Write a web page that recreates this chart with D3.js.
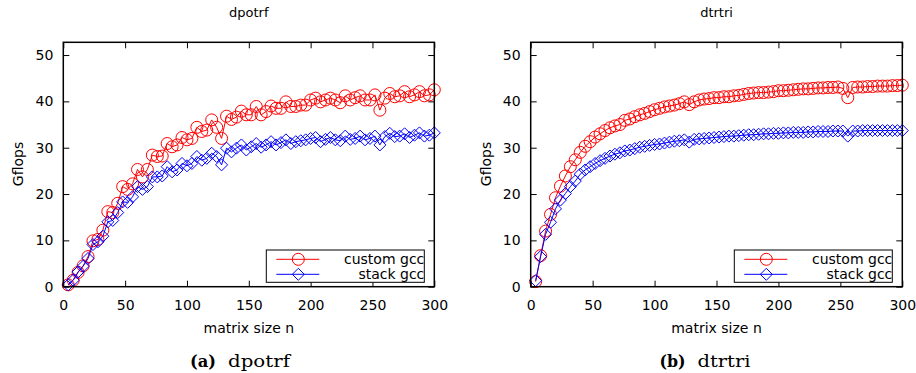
<!DOCTYPE html>
<html>
<head>
<meta charset="utf-8">
<script src="https://cdn.jsdelivr.net/npm/d3@7"></script>
<style>
  html, body { margin: 0; padding: 0; background: #fff; }
  svg { display: block; }
  text { font-family: "DejaVu Sans", "Liberation Sans", sans-serif; }
  text.caption { font-family: "DejaVu Serif", "Liberation Serif", serif; }
</style>
</head>
<body>
<svg id="chart" width="916" height="373"></svg>
<script>
// Matrix sizes n (every 4th size up to 300)
const sizes = [
    4,   8,  12,  16,  20,  24,  28,  32,  36,  40,  44,  48,  52,  56,  60,
   64,  68,  72,  76,  80,  84,  88,  92,  96, 100, 104, 108, 112, 116, 120,
  124, 128, 132, 136, 140, 144, 148, 152, 156, 160, 164, 168, 172, 176, 180,
  184, 188, 192, 196, 200, 204, 208, 212, 216, 220, 224, 228, 232, 236, 240,
  244, 248, 252, 256, 260, 264, 268, 272, 276, 280, 284, 288, 292, 296, 300
];

// dpotrf, Gflops
const dpotrfCustom = [
   0.4,  1.4,  3.1,  4.5,  6.5,  9.9, 10.2, 12.2, 16.2, 16.0, 18.0, 21.6, 21.0, 22.2, 25.3,
  23.7, 25.3, 28.4, 28.1, 28.2, 30.9, 30.2, 30.6, 32.2, 31.7, 32.0, 34.4, 33.5, 33.8, 36.0,
  34.4, 32.0, 36.8, 36.1, 36.6, 37.9, 37.1, 37.1, 38.9, 37.1, 37.8, 39.0, 38.5, 38.5, 39.9,
  38.9, 38.9, 39.2, 39.2, 40.3, 40.7, 39.9, 40.3, 40.7, 40.3, 39.7, 41.2, 40.3, 40.8, 41.2,
  40.3, 40.3, 41.4, 38.1, 40.7, 41.7, 41.0, 41.2, 42.1, 41.0, 41.4, 42.1, 41.2, 41.4, 42.5
];
const dpotrfStack = [
   0.4,  1.4,  3.2,  4.4,  6.1,  9.1,  9.7, 10.9, 14.0, 14.3, 16.0, 18.3, 18.2, 19.4, 21.6,
  21.0, 21.6, 23.7, 23.7, 23.9, 25.9, 24.8, 25.2, 26.6, 26.1, 26.6, 28.1, 27.3, 27.7, 28.8,
  28.1, 26.3, 29.9, 29.1, 29.9, 30.6, 29.5, 30.2, 30.9, 30.1, 30.6, 31.3, 30.6, 31.1, 31.7,
  30.9, 31.3, 31.5, 31.7, 32.0, 32.2, 31.3, 31.8, 32.2, 31.7, 31.5, 32.5, 31.8, 32.0, 32.5,
  31.7, 32.0, 32.5, 30.6, 32.4, 33.1, 32.4, 32.5, 33.0, 32.2, 32.7, 33.2, 32.5, 32.7, 33.2
];

// dtrtri, Gflops
const dtrtriCustom = [
   1.1,  6.7, 12.0, 15.6, 19.2, 21.7, 23.9, 25.9, 27.4, 29.0, 30.3, 31.3, 32.3, 33.0, 33.7,
  34.3, 34.7, 35.0, 35.9, 36.2, 36.7, 37.1, 37.4, 37.8, 38.2, 38.5, 38.8, 39.0, 39.2, 39.5,
  39.9, 39.3, 39.9, 40.3, 40.5, 40.6, 40.8, 40.8, 41.0, 41.0, 41.2, 41.3, 41.5, 41.7, 41.8,
  41.9, 41.9, 42.0, 42.1, 42.3, 42.3, 42.4, 42.5, 42.6, 42.7, 42.7, 42.8, 42.9, 42.9, 43.0,
  43.0, 43.1, 42.8, 40.8, 43.0, 43.1, 43.1, 43.2, 43.2, 43.3, 43.3, 43.3, 43.4, 43.4, 43.5
];
const dtrtriStack = [
   1.3,  6.5, 11.3, 13.9, 16.8, 18.7, 20.1, 21.6, 22.8, 24.3, 25.2, 25.9, 26.6, 27.2, 27.7,
  28.2, 28.6, 28.9, 29.3, 29.5, 29.8, 30.1, 30.3, 30.5, 30.7, 30.8, 31.0, 31.2, 31.4, 31.5,
  31.7, 31.2, 31.8, 31.9, 32.0, 32.1, 32.2, 32.3, 32.4, 32.5, 32.5, 32.6, 32.7, 32.8, 32.8,
  32.9, 33.0, 33.0, 33.1, 33.1, 33.2, 33.2, 33.3, 33.3, 33.3, 33.4, 33.4, 33.5, 33.5, 33.5,
  33.6, 33.6, 33.6, 32.5, 33.6, 33.6, 33.7, 33.7, 33.7, 33.7, 33.7, 33.7, 33.7, 33.7, 33.7
];

const xTicks = [0, 50, 100, 150, 200, 250, 300];
const yTicks = [0, 10, 20, 30, 40, 50];
const seriesNames = ["custom gcc", "stack gcc"];
const seriesColors = ["#ff0000", "#0000ff"];

const svg = d3.select("#chart");
const FONT = 14;
const TICK = 6;

function diamondPath(cx, cy, h) {
  return `M${cx},${cy - h}L${cx + h},${cy}L${cx},${cy + h}L${cx - h},${cy}Z`;
}

function drawPanel(opt) {
  const x = d3.scaleLinear().domain([0, 300]).range([opt.x0, opt.x1]);
  const y = d3.scaleLinear().domain([0, 52.75]).range([286.7, 42.3]);
  const g = svg.append("g");

  // Title
  g.append("text")
    .attr("x", (opt.x0 + opt.x1) / 2).attr("y", 17)
    .attr("text-anchor", "middle").attr("font-size", 13)
    .text(opt.title);

  // Axes with inward ticks on all four sides
  const ax = g.append("g").attr("transform", `translate(0,${y(0)})`)
    .call(d3.axisBottom(x).tickValues(xTicks).tickSizeInner(-TICK).tickSizeOuter(0).tickPadding(13));
  const ay = g.append("g").attr("transform", `translate(${x(0)},0)`)
    .call(d3.axisLeft(y).tickValues(yTicks).tickSizeInner(-TICK).tickSizeOuter(0).tickPadding(10));
  const at = g.append("g").attr("transform", `translate(0,${y.range()[1]})`)
    .call(d3.axisTop(x).tickValues(xTicks).tickSizeInner(-TICK).tickSizeOuter(0).tickFormat(""));
  const ar = g.append("g").attr("transform", `translate(${x(300)},0)`)
    .call(d3.axisRight(y).tickValues(yTicks).tickSizeInner(-TICK).tickSizeOuter(0).tickFormat(""));
  [ax, ay, at, ar].forEach(a => {
    a.select(".domain").remove();
    a.selectAll("line").attr("stroke", "#000").attr("stroke-width", 1);
    a.selectAll("text").attr("font-size", FONT).attr("fill", "#000");
  });

  // Series lines and markers
  opt.series.forEach((vals, si) => {
    const color = seriesColors[si];
    const pts = sizes.map((n, i) => [x(n), y(vals[i])]);
    g.append("path")
      .attr("d", d3.line()(pts))
      .attr("fill", "none").attr("stroke", color).attr("stroke-width", 1);
    if (si === 0) {
      g.selectAll(null).data(pts).enter().append("circle")
        .attr("cx", d => d[0]).attr("cy", d => d[1]).attr("r", 6)
        .attr("fill", "none").attr("stroke", color).attr("stroke-width", 1);
    } else {
      g.selectAll(null).data(pts).enter().append("path")
        .attr("d", d => diamondPath(d[0], d[1], 6))
        .attr("fill", "none").attr("stroke", color).attr("stroke-width", 1);
    }
  });

  // Plot frame
  g.append("rect")
    .attr("x", x(0)).attr("y", y.range()[1])
    .attr("width", x(300) - x(0)).attr("height", y(0) - y.range()[1])
    .attr("fill", "none").attr("stroke", "#000").attr("stroke-width", 1.5);

  // Axis labels
  g.append("text")
    .attr("x", (opt.x0 + opt.x1) / 2).attr("y", 333)
    .attr("text-anchor", "middle").attr("font-size", FONT)
    .text("matrix size n");
  g.append("text")
    .attr("transform", `translate(${opt.ylabX},164) rotate(-90)`)
    .attr("text-anchor", "middle").attr("font-size", FONT)
    .text("Gflops");

  // Legend
  const lx0 = opt.x1 - 168, lx1 = opt.x1 - 10;
  g.append("rect")
    .attr("x", lx0).attr("y", 250).attr("width", lx1 - lx0).attr("height", 32.3)
    .attr("fill", "#fff").attr("stroke", "#000").attr("stroke-width", 1);
  seriesNames.forEach((name, si) => {
    const ly = 259.3 + si * 15;
    const color = seriesColors[si];
    g.append("line")
      .attr("x1", lx0 + 10).attr("x2", lx0 + 53).attr("y1", ly).attr("y2", ly)
      .attr("stroke", color).attr("stroke-width", 1);
    const mx = lx0 + 32;
    if (si === 0) {
      g.append("circle").attr("cx", mx).attr("cy", ly).attr("r", 6)
        .attr("fill", "none").attr("stroke", color);
    } else {
      g.append("path").attr("d", diamondPath(mx, ly, 6))
        .attr("fill", "none").attr("stroke", color);
    }
    g.append("text")
      .attr("x", lx1).attr("y", ly + 4.5)
      .attr("text-anchor", "end").attr("font-size", FONT)
      .text(name);
  });

  // Subfigure caption
  const cap = g.append("text")
    .attr("class", "caption")
    .attr("y", 367)
    .attr("font-size", 17);
  cap.append("tspan").attr("x", opt.capX).attr("font-weight", "bold")
    .attr("textLength", 26).attr("lengthAdjust", "spacingAndGlyphs").text(opt.capTag);
  cap.append("tspan").attr("x", opt.capX + 38)
    .attr("textLength", opt.capW).attr("lengthAdjust", "spacingAndGlyphs").text(opt.title);
}

drawPanel({
  title: "dpotrf", x0: 63.3, x1: 434.3, ylabX: 22.5,
  series: [dpotrfCustom, dpotrfStack],
  capX: 190, capTag: "(a)", capW: 62
});
drawPanel({
  title: "dtrtri", x0: 530.7, x1: 902.3, ylabX: 490.5,
  series: [dtrtriCustom, dtrtriStack],
  capX: 659.5, capTag: "(b)", capW: 53
});
</script>
</body>
</html>
